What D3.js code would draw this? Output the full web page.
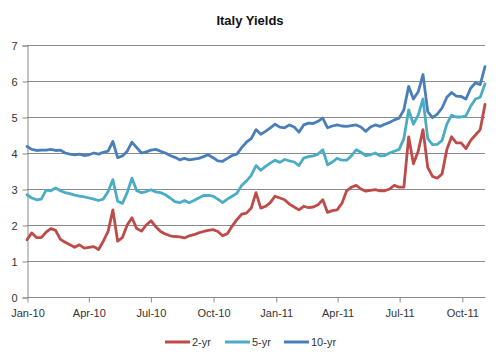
<!DOCTYPE html>
<html>
<head>
<meta charset="utf-8">
<script src="https://cdn.jsdelivr.net/npm/d3@7"></script>
<style>
  body { margin: 0; background: #fff; }
  svg text { font-family: "Liberation Sans", Arial, sans-serif; fill: #333; }
</style>
</head>
<body>
<div id="chart"></div>
<script>
// Italy Yields - weekly readings of 2-yr, 5-yr and 10-yr government bond yields

// DATA ___________________________________________________________
const START_DATE = new Date(2010, 0, 1);   // first weekly reading
const WEEKS = 97;                          // Jan 1 2010 .. Nov 3 2011

const SERIES_NAMES = ['2-yr', '5-yr', '10-yr'];

const YIELD_2YR = [
  1.59, 1.78, 1.65, 1.65, 1.80, 1.90, 1.85, 1.60, 1.52, 1.45,
  1.38, 1.45, 1.36, 1.38, 1.40, 1.32, 1.55, 1.82, 2.42, 1.55,
  1.65, 2.00, 2.20, 1.90, 1.83, 2.00, 2.12, 1.95, 1.82, 1.75,
  1.70, 1.68, 1.67, 1.64, 1.70, 1.73, 1.78, 1.82, 1.85, 1.87,
  1.82, 1.70, 1.76, 1.97, 2.15, 2.30, 2.33, 2.47, 2.90, 2.47,
  2.52, 2.62, 2.80, 2.75, 2.70, 2.58, 2.50, 2.42, 2.52, 2.48,
  2.50, 2.56, 2.70, 2.35, 2.40, 2.42, 2.60, 2.95, 3.05, 3.10,
  3.00, 2.94, 2.96, 2.98, 2.95, 2.95, 3.00, 3.10, 3.05, 3.05,
  4.45, 3.70, 4.05, 4.65, 3.60, 3.35, 3.30, 3.42, 4.10, 4.45,
  4.28, 4.28, 4.12, 4.35, 4.50, 4.65, 5.35
];

const YIELD_5YR = [
  2.84, 2.75, 2.70, 2.72, 2.97, 2.95, 3.03, 2.95, 2.90, 2.87,
  2.83, 2.80, 2.78, 2.75, 2.72, 2.68, 2.72, 2.93, 3.26, 2.66,
  2.60, 2.90, 3.30, 2.95, 2.90, 2.93, 2.98, 2.92, 2.90, 2.84,
  2.75, 2.65, 2.62, 2.68, 2.62, 2.68, 2.75, 2.82, 2.82, 2.80,
  2.72, 2.62, 2.72, 2.80, 2.88, 3.10, 3.22, 3.38, 3.65, 3.52,
  3.63, 3.72, 3.80, 3.74, 3.82, 3.78, 3.75, 3.65, 3.86, 3.90,
  3.92, 3.97, 4.09, 3.67, 3.75, 3.85, 3.80, 3.80, 3.92, 4.09,
  4.02, 3.93, 3.95, 4.00, 3.92, 3.93, 4.00, 4.05, 4.10, 4.40,
  5.20, 4.80, 5.05, 5.50, 4.40, 4.23, 4.24, 4.35, 4.80, 5.05,
  5.00, 5.00, 5.03, 5.30, 5.50, 5.55, 5.92
];

const YIELD_10YR = [
  4.18, 4.10, 4.07, 4.08, 4.08, 4.10, 4.07, 4.08, 4.00, 3.97,
  3.95, 3.97, 3.93, 3.95, 4.00, 3.97, 4.02, 4.05, 4.32, 3.87,
  3.92, 4.05, 4.30, 4.15, 4.00, 4.03, 4.08, 4.10, 4.05, 4.00,
  3.93, 3.88, 3.81, 3.85, 3.81, 3.83, 3.85, 3.90, 3.95, 3.87,
  3.78, 3.77, 3.85, 3.93, 3.97, 4.15, 4.30, 4.40, 4.65, 4.52,
  4.60, 4.70, 4.80, 4.72, 4.70, 4.78, 4.72, 4.58, 4.78, 4.83,
  4.82, 4.88, 4.97, 4.70, 4.75, 4.78, 4.75, 4.74, 4.76, 4.78,
  4.72, 4.60, 4.72, 4.78, 4.74, 4.80, 4.85, 4.92, 4.97, 5.20,
  5.85, 5.50, 5.70, 6.18, 5.15, 4.98, 5.08, 5.25, 5.55, 5.68,
  5.58, 5.57, 5.50, 5.80, 5.95, 5.90, 6.40
];

const Y_TICKS = [0, 1, 2, 3, 4, 5, 6, 7];
const X_TICK_LABELS = ['Jan-10', 'Apr-10', 'Jul-10', 'Oct-10', 'Jan-11', 'Apr-11', 'Jul-11', 'Oct-11'];
//________________________________________________________________________________________


// CHART SETTINGS ___________________________________________________________
const SVG_W = 500, SVG_H = 361;
const PLOT = {left: 27, right: 485, top: 45, bottom: 297};
const COLORS = ['#BE4B48', '#4BACC6', '#4A7EBB'];
const AXIS_COLOR = '#8a8a8a';
//________________________________________________________________________________________


// BUILD ___________________________________________________________
const dates = d3.range(WEEKS).map(function(i) { return d3.timeDay.offset(START_DATE, i * 7); });
const seriesValues = [YIELD_2YR, YIELD_5YR, YIELD_10YR];

const svg = d3.select('#chart')
  .append('svg')
  .attr('width', SVG_W)
  .attr('height', SVG_H);

const xScale = d3.scaleTime()
  .domain([START_DATE, new Date(2011, 10, 4)])
  .range([PLOT.left, PLOT.right]);

const yScale = d3.scaleLinear()
  .domain([0, 7])
  .range([PLOT.bottom, PLOT.top]);

// Quarterly tick dates parsed from the labels
const parseTick = d3.timeParse('%b-%y');
const xTickDates = X_TICK_LABELS.map(parseTick);

// Title
svg.append('text')
  .attr('x', 250)
  .attr('y', 25)
  .attr('text-anchor', 'middle')
  .attr('font-size', '13px')
  .attr('font-weight', 'bold')
  .style('fill', '#111')
  .text('Italy Yields');

// Horizontal gridlines (above zero)
svg.append('g')
  .selectAll('line')
  .data(Y_TICKS.filter(function(d) { return d > 0; }))
  .enter()
  .append('line')
  .attr('x1', PLOT.left)
  .attr('x2', PLOT.right)
  .attr('y1', function(d) { return yScale(d) + 0.5; })
  .attr('y2', function(d) { return yScale(d) + 0.5; })
  .attr('stroke', AXIS_COLOR)
  .attr('stroke-width', 1);

// Y axis
const yAxis = svg.append('g')
  .attr('transform', `translate(${PLOT.left + 0.5},0.5)`)
  .call(d3.axisLeft(yScale).tickValues(Y_TICKS).tickFormat(d3.format('d')).tickSize(5).tickPadding(5));
yAxis.selectAll('text').attr('font-size', '11px').style('fill', '#333');

// X axis
const xAxis = svg.append('g')
  .attr('transform', `translate(0.5,${PLOT.bottom + 0.5})`)
  .call(d3.axisBottom(xScale).tickValues(xTickDates).tickFormat(d3.timeFormat('%b-%y')).tickSize(5).tickPadding(7));
xAxis.selectAll('text').attr('font-size', '11px').style('fill', '#333');
xAxis.select('.domain').attr('d', `M${PLOT.left},0H${PLOT.right}`);

svg.selectAll('.domain, .tick line').attr('stroke', AXIS_COLOR);

// Lines
const line = d3.line()
  .x(function(d) { return xScale(d.date); })
  .y(function(d) { return yScale(d.value); });

seriesValues.forEach(function(values, s) {
  const points = values.map(function(v, i) { return {date: dates[i], value: v}; });
  svg.append('path')
    .datum(points)
    .attr('fill', 'none')
    .attr('stroke', COLORS[s])
    .attr('stroke-width', 2.8)
    .attr('stroke-linejoin', 'round')
    .attr('stroke-linecap', 'round')
    .attr('d', line);
});

// Legend
const legendX = [165, 225, 284];
const legend = svg.append('g')
  .selectAll('g')
  .data(SERIES_NAMES)
  .enter()
  .append('g')
  .attr('transform', function(d, i) { return `translate(${legendX[i]},342)`; });

legend.append('line')
  .attr('x1', 0).attr('x2', 25)
  .attr('stroke', function(d, i) { return COLORS[i]; })
  .attr('stroke-width', 3);

legend.append('text')
  .attr('x', 27)
  .attr('y', 4)
  .attr('font-size', '11px')
  .style('fill', '#333')
  .text(function(d) { return d; });
//________________________________________________________________________________________
</script>
</body>
</html>
